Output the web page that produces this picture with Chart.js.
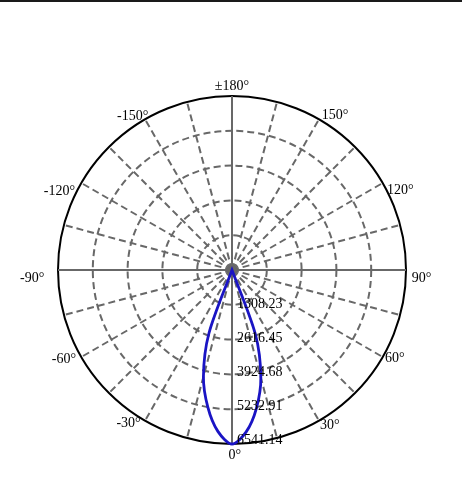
<!DOCTYPE html>
<html><head><meta charset="utf-8">
<script src="https://cdn.jsdelivr.net/npm/chart.js@4"></script>
<style>
html,body{margin:0;padding:0;background:#fff;}
#wrap{position:relative;width:462px;height:480px;}
#topbar{position:absolute;left:0;top:0;width:462px;height:2px;background:#1a1a1a;}
</style></head><body>
<div id="wrap"><canvas id="c"></canvas><div id="topbar"></div></div>
<script>
// Angles (degrees, 0 = downward), one category per 5 degrees, clockwise from the bottom
const angles = [0,-5,-10,-15,-20,-25,-30,-35,-40,-45,-50,-55,-60,-65,-70,-75,-80,-85,-90,-95,-100,-105,-110,-115,-120,-125,-130,-135,-140,-145,-150,-155,-160,-165,-170,-175,180,175,170,165,160,155,150,145,140,135,130,125,120,115,110,105,100,95,90,85,80,75,70,65,60,55,50,45,40,35,30,25,20,15,10,5];
// Luminous intensity (cd) at each angle above
const intensity = [6541.14,6090,5235,4150,2540,0,0,0,0,0,0,0,0,0,0,0,0,0,0,0,0,0,0,0,0,0,0,0,0,0,0,0,0,0,0,0,0,0,0,0,0,0,0,0,0,0,0,0,0,0,0,0,0,0,0,0,0,0,0,0,0,0,0,0,0,0,0,0,2580,4190,5280,6110];
// Ring values and their labels
const ringValues = [0,1308.23,2616.45,3924.68,5232.91,6541.14];
const ringLabels = ['','1308.23','2616.45','3924.68','5232.91','6541.14'];
// Angle tick labels
const angleLabelAngles = [0,30,60,90,120,150,180,-150,-120,-90,-60,-30];
const angleLabelTexts = ['0°','30°','60°','90°','120°','150°','±180°','-150°','-120°','-90°','-60°','-30°'];

const labelOffsets = {0:[2.7,11],30:[1,4.3],60:[2.3,1.5],90:[5.7,8],120:[4.3,7],150:[2.7,-4.3],180:[0,-10],
  '-150':[3.3,-3.3],'-120':[-6.3,8],'-90':[-13.7,8],'-60':[-5.3,2.5],'-30':[-4.3,2.3]};

const GRAY = '#686868';
const labelPlugin = {
  id: 'polarLabels',
  afterDraw(chart) {
    const s = chart.scales.r, ctx = chart.ctx;
    ctx.save();
    ctx.fillStyle = '#000';
    ctx.font = '14px "Liberation Serif"';
    ctx.textBaseline = 'middle';
    ctx.textAlign = 'left';
    ringValues.forEach((v, k) => {
      if (!ringLabels[k]) return;
      const d = s.getDistanceFromCenterForValue(v);
      ctx.fillText(ringLabels[k], s.xCenter + 5, s.yCenter + d - 0.85 * (k - 1));
    });
    angleLabelAngles.forEach((a, k) => {
      const idx = angles.findIndex(x => Math.abs(a) === 180 ? Math.abs(x) === 180 : x === a);
      const p = s.getPointPosition(idx, s.drawingArea);
      const o = labelOffsets[a];
      ctx.textAlign = (a === 0 || Math.abs(a) === 180) ? 'center' : (a > 0 ? 'left' : 'right');
      ctx.fillText(angleLabelTexts[k], p.x + o[0], p.y + o[1]);
    });
    ctx.restore();
  }
};

new Chart(document.getElementById('c'), {
  type: 'radar',
  data: {
    labels: angles,
    datasets: [{
      data: intensity,
      borderColor: '#1a14c4',
      backgroundColor: 'transparent',
      borderWidth: 2.8,
      pointRadius: 0,
      fill: false,
      tension: 0.3
    }]
  },
  options: {
    responsive: true,
    maintainAspectRatio: false,
    animation: false,
    layout: {padding: {left: 58, right: 56, top: 96, bottom: 36}},
    plugins: {legend: {display: false}, tooltip: {enabled: false}},
    scales: {
      r: {
        min: 0, max: 6541.14,
        startAngle: 180,
        afterBuildTicks: s => { s.ticks = ringValues.map(v => ({value: v})); },
        ticks: {display: false},
        pointLabels: {display: false},
        grid: {
          circular: true,
          color: c => c.index === ringValues.length - 1 ? '#000' : GRAY,
          lineWidth: 2
        },
        border: {dash: c => c.index === ringValues.length - 1 ? [] : [7, 4]},
        angleLines: {
          color: GRAY,
          lineWidth: c => c.index % 3 === 0 ? 2 : 0,
          borderDash: c => c.index % 18 === 0 ? [] : [7, 4]
        }
      }
    }
  },
  plugins: [labelPlugin]
});
</script>
</body></html>
